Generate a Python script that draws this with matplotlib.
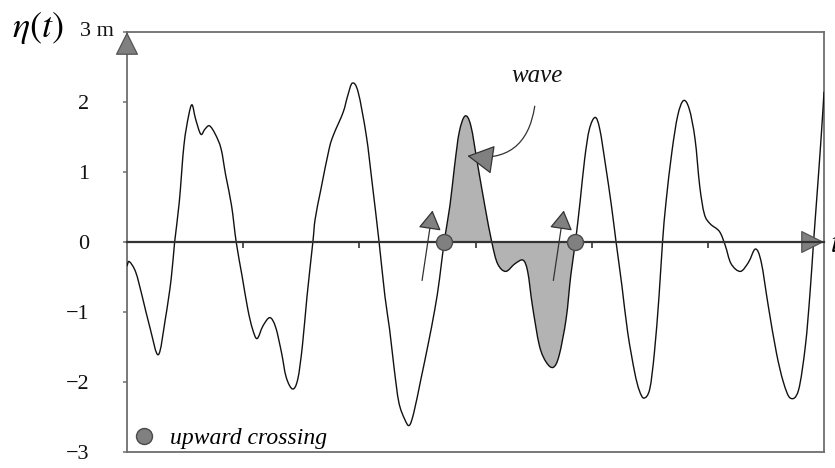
import numpy as np
import matplotlib
matplotlib.use("Agg")
import matplotlib.pyplot as plt
from matplotlib.lines import Line2D
from matplotlib.path import Path
from matplotlib.patches import PathPatch
from matplotlib import transforms

# ---- data ----
t = [0.00, 0.02, 0.075, 0.13, 0.20, 0.27, 0.33, 0.38, 0.41, 0.45, 0.49, 0.53, 0.56, 0.59,
     0.635, 0.67, 0.71, 0.76, 0.81, 0.85, 0.90, 0.94, 0.99, 1.04, 1.08, 1.12, 1.17, 1.23,
     1.28, 1.33, 1.37, 1.425, 1.47, 1.51, 1.55, 1.60, 1.62, 1.67, 1.74, 1.78, 1.86, 1.90,
     1.94, 1.99, 2.06, 2.11, 2.17, 2.22, 2.26, 2.30, 2.34, 2.39, 2.43, 2.47, 2.53, 2.59,
     2.65, 2.69, 2.73, 2.78, 2.82, 2.86, 2.91, 2.96, 3.02, 3.08, 3.14, 3.19, 3.26, 3.34,
     3.41, 3.45, 3.49, 3.55, 3.61, 3.67, 3.72, 3.78, 3.82, 3.86, 3.90, 3.94, 3.98, 4.03,
     4.07, 4.12, 4.17, 4.21, 4.26, 4.31, 4.37, 4.41, 4.45, 4.50, 4.54, 4.58, 4.61, 4.64,
     4.69, 4.74, 4.79, 4.84, 4.89, 4.93, 4.97, 5.02, 5.10, 5.15, 5.20, 5.28, 5.35, 5.41,
     5.46, 5.52, 5.59, 5.65, 5.71, 5.78, 5.84, 5.88, 5.91, 5.95, 5.98, 6.00]
eta = [-0.34, -0.28, -0.43, -0.77, -1.24, -1.61, -1.10, -0.53, 0.00, 0.57, 1.38, 1.80, 1.96, 1.76,
       1.54, 1.61, 1.66, 1.54, 1.33, 0.95, 0.52, 0.00, -0.48, -0.96, -1.24, -1.38, -1.20, -1.08,
       -1.22, -1.58, -1.93, -2.10, -1.96, -1.48, -0.77, 0.00, 0.33, 0.76, 1.33, 1.54, 1.85, 2.09,
       2.27, 2.14, 1.52, 0.85, 0.00, -0.77, -1.24, -1.81, -2.29, -2.53, -2.62, -2.43, -1.96, -1.48,
       -0.96, -0.53, 0.00, 0.52, 1.09, 1.57, 1.80, 1.66, 1.09, 0.52, 0.00, -0.31, -0.42, -0.31,
       -0.26, -0.43, -0.91, -1.48, -1.72, -1.79, -1.62, -1.10, -0.48, 0.00, 0.57, 1.19, 1.61, 1.78,
       1.61, 1.09, 0.52, 0.00, -0.62, -1.29, -1.86, -2.12, -2.23, -2.10, -1.58, -0.77, 0.00, 0.57,
       1.28, 1.80, 2.02, 1.90, 1.47, 0.80, 0.40, 0.26, 0.15, -0.05, -0.31, -0.42, -0.29, -0.10,
       -0.29, -0.91, -1.58, -2.00, -2.23, -2.12, -1.48, -0.72, 0.00, 0.90, 1.61, 2.14]
crossings = [2.73, 3.86]          # upward zero crossings bounding the marked wave
ytick_vals = [-3, -2, -1, 0, 1, 2]
ytick_labels = ["\u22123", "\u22122", "\u22121", "0", "1", "2"]
top_label = "3 m"

t = np.array(t)
eta = np.array(eta)


def smooth_path(x, y):
    """Cubic Bezier path passing through the read points (Catmull-Rom tangents)."""
    p = np.column_stack([x, y])
    n = len(p)
    m = np.zeros_like(p)
    m[1:-1] = (p[2:] - p[:-2]) / 2.0
    m[0] = p[1] - p[0]
    m[-1] = p[-1] - p[-2]
    verts = [p[0]]
    codes = [Path.MOVETO]
    for i in range(n - 1):
        verts += [p[i] + m[i] / 3.0, p[i + 1] - m[i + 1] / 3.0, p[i + 1]]
        codes += [Path.CURVE4] * 3
    return verts, codes


serif = ["Liberation Serif", "DejaVu Serif"]
plt.rcParams["mathtext.fontset"] = "stix"

fig = plt.figure(figsize=(8.35, 4.68), dpi=100)
ax = fig.add_axes([127 / 835, 1 - 452 / 468, (824 - 127) / 835, (452 - 32) / 468])

ax.set_xlim(0, 6)
ax.set_ylim(-3, 3)

grey_line = "#6e6e6e"
for s in ["left", "top", "right"]:
    ax.spines[s].set_color(grey_line)
    ax.spines[s].set_linewidth(1.3)
ax.spines["bottom"].set_position(("data", 0))
ax.spines["bottom"].set_color("#333333")
ax.spines["bottom"].set_linewidth(1.6)
ax.spines["bottom"].set_zorder(4)
ax.axhline(-3, color=grey_line, lw=1.3, clip_on=False, zorder=1)

ax.set_xticks([1, 2, 3, 4, 5])
ax.tick_params(axis="x", direction="out", length=4, width=1.2, colors="#333333",
               labelbottom=False)
ax.set_yticks(ytick_vals + [3])
ax.set_yticklabels(ytick_labels + [""], fontfamily=serif, fontsize=16)
ax.tick_params(axis="y", direction="out", length=3, width=1.1, colors=grey_line,
               labelcolor="#111111", pad=24)
ax.text(80 / 835, 3, top_label,
        transform=transforms.blended_transform_factory(fig.transFigure, ax.transData),
        ha="left", va="center", fontsize=16, family=serif, color="#111111")

# filled wave between the two upward crossings
i0 = int(np.argmin(np.abs(t - crossings[0])))
i1 = int(np.argmin(np.abs(t - crossings[1])))
fv, fc = smooth_path(t[i0:i1 + 1], eta[i0:i1 + 1])
fv = fv + [fv[0]]
fc = fc + [Path.CLOSEPOLY]
ax.add_patch(PathPatch(Path(fv, fc), facecolor="#b3b3b3", edgecolor="none", zorder=2))

# curve
v, c = smooth_path(t, eta)
ax.add_patch(PathPatch(Path(v, c), facecolor="none", edgecolor="#111111", lw=1.0,
                       zorder=3, capstyle="round", joinstyle="round"))

# crossing markers
ax.plot(crossings, [0, 0], "o", ms=11.5, mfc="#808080", mec="#4a4a4a", mew=1.0, zorder=6,
        clip_on=False)

# small arrows next to crossings
for cr in crossings:
    ax.annotate("", xy=(cr - 0.10, 0.45), xytext=(cr - 0.19, -0.55),
                arrowprops=dict(arrowstyle="-|>,head_length=1.0,head_width=0.6",
                                mutation_scale=12, fc="#808080", ec="#333333", lw=0.9,
                                shrinkA=0, shrinkB=0), zorder=7)

# "wave" annotation
ax.annotate("", xy=(2.93, 1.23), xytext=(3.51, 1.94),
            arrowprops=dict(arrowstyle="-|>,head_length=1.0,head_width=0.55",
                            mutation_scale=17, fc="#808080", ec="#333333", lw=0.9,
                            shrinkA=0, shrinkB=0, connectionstyle="arc3,rad=-0.5"),
            zorder=7)
ax.text(3.53, 2.37, "wave", ha="center", va="center", fontsize=18, family=serif,
        style="italic", color="#111111")

# axis arrowheads
ax.annotate("", xy=(0, 1.0), xytext=(0, 0.96), xycoords="axes fraction",
            arrowprops=dict(arrowstyle="-|>,head_length=1.0,head_width=0.5",
                            mutation_scale=15, fc="#808080", ec="#555555", lw=0.9,
                            shrinkA=0, shrinkB=0))
ax.annotate("", xy=(6.0, 0), xytext=(5.9, 0), xycoords="data",
            arrowprops=dict(arrowstyle="-|>,head_length=1.0,head_width=0.5",
                            mutation_scale=15, fc="#808080", ec="#555555", lw=0.9,
                            shrinkA=0, shrinkB=0), annotation_clip=False)

# axis titles
fig.text(12 / 835, 1 - 28 / 468, r"$\eta(t)$", ha="left", va="center", fontsize=26)
fig.text(830 / 835, 1 - 243 / 468, r"$t$", ha="left", va="center", fontsize=22)

# legend
handle = Line2D([], [], ls="none", marker="o", ms=11.5, mfc="#808080", mec="#4a4a4a", mew=1.0)
ax.legend([handle], ["upward crossing"], loc="lower left", frameon=False,
          prop=dict(family=serif, style="italic", size=17),
          bbox_to_anchor=(-0.006, -0.015), handlelength=1.0, handletextpad=0.6,
          borderaxespad=0)

fig.savefig("out.png", dpi=100)
